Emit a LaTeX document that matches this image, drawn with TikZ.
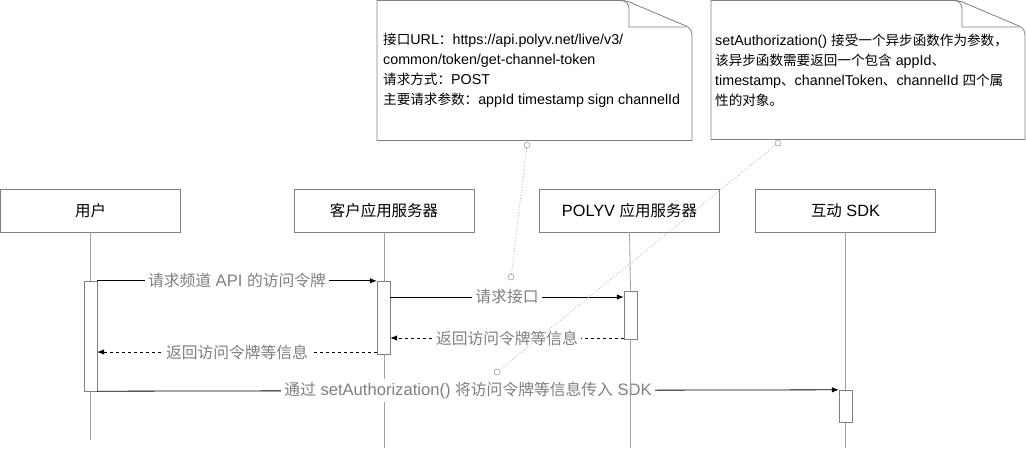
\documentclass[tikz,border=0pt]{standalone}
\usepackage{fontspec}
\setmainfont{Liberation Sans}
\newfontfamily\cjk[Scale=0.95]{Noto Sans CJK SC}
\usetikzlibrary{arrows.meta}
\definecolor{boxgray}{HTML}{808080}
\definecolor{lifegray}{HTML}{A0A0A0}
\definecolor{labelgray}{HTML}{808080}
\definecolor{dotgray}{HTML}{B0B0B0}
\begin{document}
\begin{tikzpicture}[x=1pt,y=-1pt,
  head/.style={draw=boxgray, fill=white, minimum width=180pt, minimum height=43pt, inner sep=0pt, font=\fontsize{16.3}{19}\selectfont},
  life/.style={draw=lifegray, line width=0.8pt},
  bar/.style={draw=boxgray, fill=white, minimum width=13pt, inner sep=0pt},
  msg/.style={draw=black, line width=0.8pt, -{Latex[length=7pt,width=5.5pt]}},
  ret/.style={msg, dash pattern=on 3pt off 3pt},
  lbl/.style={fill=white, text=labelgray, inner sep=3pt, font=\fontsize{16.6}{19}\selectfont},
  notebox/.style={draw=boxgray, fill=white, line width=0.8pt},
  notetext/.style={align=left, inner sep=0pt, anchor=west, font=\fontsize{14.3}{20}\selectfont},
  dotc/.style={circle, draw=boxgray, fill=white, minimum size=6pt, inner sep=0pt},
  anchorline/.style={draw=dotgray, dotted, line width=0.8pt}
]
\useasboundingbox (0,0) rectangle (1026,448);
\fill[white] (0,0) rectangle (1026,448);

% headers
\node[head] (u) at (90.5,210.5) {{\cjk 用户}};
\node[head] (c) at (384,210.5) {{\cjk 客户应用服务器}};
\node[head] (p) at (629.5,210.5) {POLYV {\cjk 应用服务器}};
\node[head] (s) at (845.5,210.5) {{\cjk 互动} SDK};

\coordinate (ue) at (90.5,440);
\coordinate (ce) at (384,448);
\coordinate (pe) at (630.5,448);
\coordinate (se) at (845.5,448);

\draw[life] (u.south) -- (ue);
\draw[life] (c.south) -- (ce);
\draw[life] (s.south) -- (se);

% activation bars
\node[bar, minimum height=110pt] (ua) at (90.5,336) {};
\node[bar, minimum height=73pt] (ca) at (383.5,317.5) {};
\node[bar, minimum height=48pt] (pa) at (630.5,315) {};
\node[bar, minimum height=32pt] (sa) at (845.5,406) {};

% messages
\draw[msg] (ua.north east) -- node[lbl] {{\cjk 请求频道} API {\cjk 的访问令牌}} (ca.north west);
\draw[msg] (ca.east |- 0,297) -- node[lbl] {{\cjk 请求接口}} (pa.west |- 0,297);
\draw[ret] (pa.west |- 0,338) -- node[lbl] {{\cjk 返回访问令牌等信息}} (ca.east |- 0,338);
\draw[ret] (ca.west |- 0,352) -- node[lbl] {{\cjk 返回访问令牌等信息}} (ua.east |- 0,352);
\draw[msg] (ua.south east) -- node[lbl] {{\cjk 通过} setAuthorization() {\cjk 将访问令牌等信息传入} SDK} (sa.north west);

% POLYV lifeline drawn on top of labels
\draw[life] (p.south) -- (pa.north);
\draw[life] (pa.south) -- (pe);

% note 1
\path[notebox] (377,0.5) -- (620,0.5) .. controls (627,0.5) and (630,2) .. (634,4) -- (686,26)
  .. controls (690.5,28) and (692,31) .. (692,36) -- (692,140.5) -- (377,140.5) -- cycle;
\draw[boxgray, line width=0.8pt] (620,0.5) .. controls (626,0.5) and (629,3) .. (629,10) -- (629,27) -- (686,27);
\node[notetext] (n1) at (383,70) {{\cjk 接口}URL{\cjk ：}https://api.polyv.net/live/v3/\\
common/token/get-channel-token\\
{\cjk 请求方式：}POST\\
{\cjk 主要请求参数：}appId timestamp sign channelId};

% note 2
\path[notebox] (711,0.5) -- (953,0.5) .. controls (960,0.5) and (963,2) .. (967,4) -- (1019,26)
  .. controls (1023.5,28) and (1025,31) .. (1025,36) -- (1025,139.5) -- (711,139.5) -- cycle;
\draw[boxgray, line width=0.8pt] (953,0.5) .. controls (959,0.5) and (962,3) .. (962,10) -- (962,27) -- (1019,27);
\node[notetext] (n2) at (715,70) {setAuthorization() {\cjk 接受一个异步函数作为参数，}\\
{\cjk 该异步函数需要返回一个包含} appId{\cjk 、}\\
timestamp{\cjk 、}channelToken{\cjk 、}channelId {\cjk 四个属}\\
{\cjk 性的对象。}};

% anchor lines
\node[dotc] (n1a) at (527,145) {};
\node[dotc] (n1b) at (511,277) {};
\node[dotc] (n2a) at (778,143) {};
\node[dotc] (n2b) at (497,372) {};
\draw[anchorline] (n1a) -- (n1b);
\draw[anchorline] (n2a) -- (n2b);
\end{tikzpicture}
\end{document}
